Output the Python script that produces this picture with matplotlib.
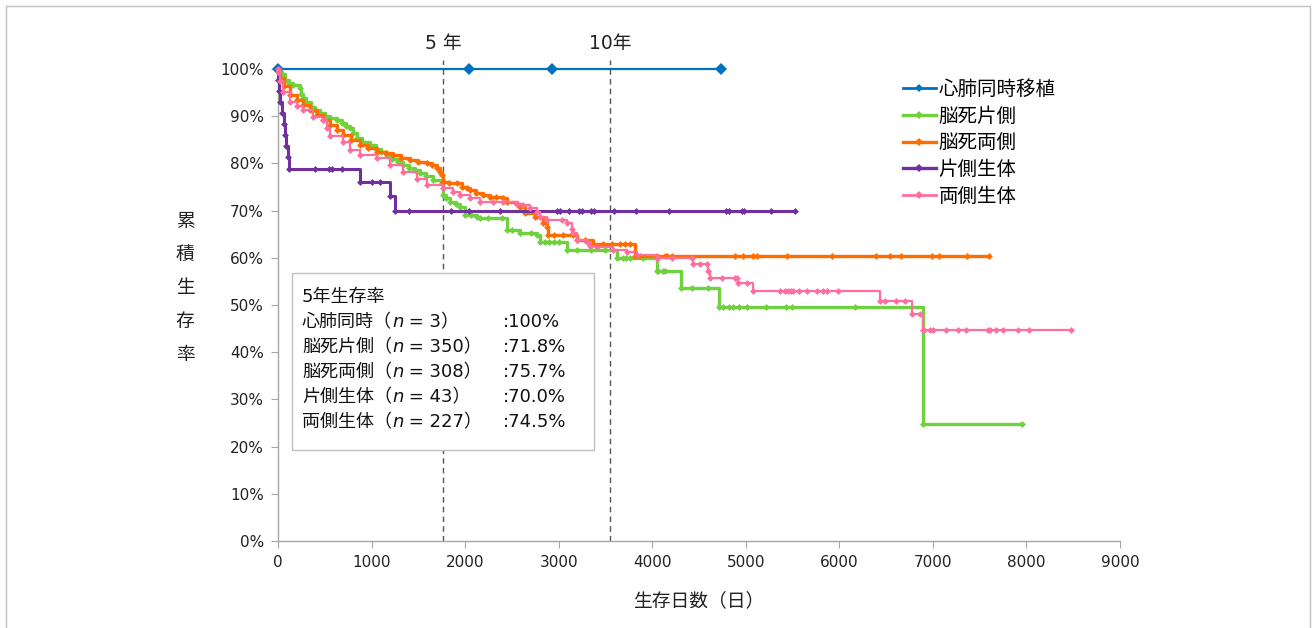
import matplotlib
matplotlib.use("Agg")
import matplotlib.pyplot as plt
from matplotlib.lines import Line2D
from matplotlib.patches import Rectangle
from matplotlib.ticker import FuncFormatter

plt.rcParams['font.family'] = ['DejaVu Sans', 'Noto Sans CJK JP']

# 生存日数 (days) and 累積生存率 (%), one step point each
labels = ["心肺同時移植", "脳死片側", "脳死両側", "片側生体", "両側生体"]
colors = ["#0070C0", "#6FD13D", "#FF6D00", "#7030A0", "#FF6F9E"]

hl_days = [0, 2040, 2930, 4730]
hl_surv = [100, 100, 100, 100]

bds_days = [0, 20, 40, 78, 120, 160, 235, 250, 270, 300, 350, 400, 449, 500, 560, 627, 680, 730,
            770, 800, 841, 900, 983, 1050, 1100, 1162, 1220, 1280, 1339, 1400, 1460, 1518, 1580,
            1660, 1750, 1767, 1800, 1838, 1900, 1945, 1999, 2060, 2124, 2159, 2250, 2391, 2444,
            2500, 2587, 2700, 2765, 2800, 2850, 2900, 2950, 3000, 3089, 3200, 3350, 3500, 3623,
            3690, 3725, 3760, 3900, 4047, 4062, 4115, 4136, 4304, 4422, 4600, 4717, 4760, 4824,
            4867, 4931, 5016, 5219, 5433, 5497, 6167, 6897, 7948]
bds_surv = [100, 99.4, 98.9, 97.7, 97.1, 96.6, 95.9, 94.8, 93.8, 93.0, 92.0, 91.3, 90.6, 90.0,
            89.6, 89.2, 88.5, 88.0, 87.4, 86.5, 85.3, 84.6, 83.9, 83.0, 82.4, 81.8, 81.0, 80.4,
            79.7, 79.0, 78.5, 77.9, 77.3, 76.5, 75.8, 73.3, 72.6, 71.9, 71.3, 70.8, 69.1, 69.0,
            68.7, 68.4, 68.4, 68.4, 65.9, 65.9, 65.2, 65.2, 64.8, 63.3, 63.3, 63.3, 63.3, 63.3,
            61.7, 61.7, 61.7, 61.7, 59.9, 59.9, 59.9, 59.9, 59.9, 57.3, 57.3, 57.3, 57.3, 53.6,
            53.6, 53.6, 49.6, 49.6, 49.6, 49.6, 49.6, 49.6, 49.6, 49.6, 49.6, 49.6, 24.7, 24.7]

bdb_days = [0, 21, 60, 128, 200, 270, 340, 414, 480, 556, 630, 698, 780, 876, 960, 1055, 1150,
            1232, 1320, 1411, 1500, 1589, 1650, 1696, 1730, 1750, 1767, 1826, 1910, 1970, 2017,
            2052, 2120, 2194, 2266, 2330, 2408, 2444, 2551, 2587, 2640, 2747, 2836, 2872, 2889,
            2950, 3050, 3156, 3192, 3280, 3370, 3474, 3567, 3655, 3709, 3762, 3816, 3869, 4048,
            4136, 4154, 4208, 4885, 4974, 5080, 5116, 5437, 5925, 6392, 6541, 6659, 6987, 7065,
            7361, 7600]
bdb_surv = [100, 98.0, 96.5, 94.5, 93.4, 92.4, 91.3, 90.3, 89.2, 88.1, 87.0, 86.0, 84.9, 83.9,
            83.2, 82.5, 82.1, 81.8, 81.2, 80.7, 80.4, 80.0, 79.6, 79.0, 78.2, 77.5, 76.1, 75.8,
            75.8, 75.1, 74.7, 74.4, 73.8, 73.3, 72.9, 72.9, 72.6, 71.9, 71.5, 70.8, 69.4, 68.7,
            67.3, 66.6, 64.8, 64.8, 64.8, 64.8, 63.8, 63.8, 62.9, 62.9, 62.9, 62.9, 62.9, 62.9,
            60.3, 60.3, 60.3, 60.3, 60.3, 60.3, 60.3, 60.3, 60.3, 60.3, 60.3, 60.3, 60.3, 60.3,
            60.3, 60.3, 60.3, 60.3, 60.3]

lds_days = [0, 5, 15, 25, 40, 60, 70, 85, 110, 120, 392, 542, 577, 684, 876, 1005, 1090, 1197,
            1250, 1397, 1849, 2045, 2373, 2979, 3014, 3114, 3221, 3246, 3342, 3381, 3591, 3826,
            4179, 4788, 4820, 4956, 4981, 5266, 5526]
lds_surv = [100, 97.7, 95.3, 93.0, 90.7, 88.4, 86.0, 83.7, 81.4, 78.9, 78.9, 78.9, 78.9, 78.9,
            76.0, 76.0, 76.0, 73.0, 70.0, 70.0, 70.0, 70.0, 70.0, 70.0, 70.0, 70.0, 70.0, 70.0,
            70.0, 70.0, 70.0, 70.0, 70.0, 70.0, 70.0, 70.0, 70.0, 70.0, 70.0]

ldb_days = [0, 3, 21, 57, 128, 200, 270, 377, 484, 520, 556, 698, 770, 876, 1055, 1197, 1339,
            1482, 1589, 1767, 1870, 1945, 2052, 2159, 2300, 2408, 2551, 2622, 2693, 2765, 2800,
            2872, 3032, 3086, 3140, 3157, 3192, 3299, 3335, 3406, 3584, 3727, 3834, 4048, 4065,
            4208, 4422, 4432, 4510, 4582, 4599, 4617, 4742, 4885, 4902, 4920, 5009, 5080, 5365,
            5419, 5454, 5480, 5508, 5572, 5651, 5758, 5829, 5872, 5989, 6434, 6488, 6602, 6701,
            6773, 6860, 6897, 6908, 6969, 7004, 7140, 7265, 7350, 7585, 7610, 7671, 7746, 7906,
            8027, 8473]
ldb_surv = [100, 99.4, 97.5, 95.2, 93.1, 92.2, 91.3, 89.9, 89.2, 87.4, 85.7, 84.6, 82.8, 81.8,
            81.1, 79.7, 78.2, 76.8, 75.4, 74.7, 74.0, 73.3, 72.6, 71.9, 71.9, 71.9, 71.5, 71.2,
            70.5, 69.8, 68.7, 68.0, 68.0, 67.3, 66.2, 65.2, 63.8, 63.4, 62.4, 62.2, 61.7, 61.3,
            60.6, 59.9, 59.9, 59.9, 59.9, 58.6, 58.6, 58.6, 57.1, 55.8, 55.8, 55.8, 55.8, 54.6,
            54.6, 53.0, 53.0, 53.0, 53.0, 53.0, 53.0, 53.0, 53.0, 53.0, 53.0, 53.0, 53.0, 50.8,
            50.8, 50.8, 50.8, 48.0, 48.0, 44.8, 44.8, 44.8, 44.8, 44.8, 44.8, 44.8, 44.8, 44.8,
            44.8, 44.8, 44.8, 44.8, 44.8]

five_year_rates = ["100%", "71.8%", "75.7%", "70.0%", "74.5%"]
group_names = ["心肺同時", "脳死片側", "脳死両側", "片側生体", "両側生体"]
group_n = [3, 350, 308, 43, 227]

year_marks = [1767, 3548]
year_labels = ["5 年", "10年"]

series = [(hl_days, hl_surv), (bds_days, bds_surv), (bdb_days, bdb_surv),
          (lds_days, lds_surv), (ldb_days, ldb_surv)]
widths = [1.6, 2.4, 2.4, 2.2, 1.6]
msizes = [6.5, 3.5, 3.5, 3.5, 3.5]

fig = plt.figure(figsize=(13.16, 6.28), dpi=100)
ax = fig.add_axes([278 / 1316, 87 / 628, 842 / 1316, 472 / 628])

for (d, s), lab, c, lw, ms in zip(series, labels, colors, widths, msizes):
    ax.plot(d, [v / 100 for v in s], drawstyle="steps-post", color=c, lw=lw,
            marker="D", markersize=ms, markeredgewidth=0, label=lab, zorder=3, clip_on=False)

ax.set_xlim(0, 9000)
ax.set_ylim(0, 1.0)
ax.set_xticks(range(0, 9001, 1000))
ax.set_yticks([i / 10 for i in range(11)])
ax.yaxis.set_major_formatter(FuncFormatter(lambda v, p: f"{v * 100:.0f}%"))
for sp in ["top", "right"]:
    ax.spines[sp].set_visible(False)
for sp in ["left", "bottom"]:
    ax.spines[sp].set_color("#A6A6A6")
    ax.spines[sp].set_linewidth(1.0)
ax.tick_params(axis="both", colors="#A6A6A6", labelcolor="#222222", labelsize=11, length=5)
ax.tick_params(axis="x", pad=5)
ax.tick_params(axis="y", pad=5)

# 5年 / 10年 dashed markers
for xm, yl in zip(year_marks, year_labels):
    ax.plot([xm, xm], [0, 1.02], ls=(0, (4, 3)), color="#555555", lw=1.0,
            clip_on=False, zorder=2)
    ax.text(xm, 1.055, yl, ha="center", va="center", fontsize=13.5, color="#222222")

ax.set_xlabel("生存日数（日）", fontsize=13.5, labelpad=15, color="#222222")
fig.text(185 / 1316, 1 - 288 / 628, "\n".join("累積生存率"), ha="center", va="center",
         fontsize=13.5, linespacing=1.95, color="#222222")

handles = [Line2D([], [], color=c, lw=lw, marker="D", markersize=4, markeredgewidth=0)
           for c, lw in zip(colors, [2, 2.4, 2.4, 2.4, 2])]
leg = ax.legend(handles, labels, loc="upper left", bbox_to_anchor=(0.742, 0.977),
                frameon=False, fontsize=14, handlelength=1.7, handletextpad=0.15,
                labelspacing=0.40, borderaxespad=0, borderpad=0, numpoints=1)

# 5年生存率 summary box
box = Rectangle((292 / 1316, 1 - 450 / 628), 302 / 1316, 177 / 628, transform=fig.transFigure,
                facecolor="white", edgecolor="#BFBFBF", lw=1.0, zorder=5)
fig.patches.append(box)
fig.text(302 / 1316, 1 - 297 / 628, "5年生存率", fontsize=13, va="center", zorder=6,
         color="#111111")

renderer = fig.canvas.get_renderer()


def text_runs(x_px, y, runs):
    # lay out text pieces one after another, left to right
    for s, style in runs:
        t = fig.text(x_px / 1316, y, s, fontsize=13, va="center", zorder=6, color="#111111",
                     style=style)
        x_px += t.get_window_extent(renderer).width


for i, (g, n, r) in enumerate(zip(group_names, group_n, five_year_rates)):
    y = 1 - (322 + 25 * i) / 628
    text_runs(302, y, [(f"{g}（", "normal"), ("n", "italic"), (f" = {n}）", "normal")])
    fig.text(503 / 1316, y, f":{r}", fontsize=13, va="center", zorder=6, color="#111111")

# outer frame
fig.patches.append(Rectangle((6 / 1316, -0.01), 1304 / 1316, 1 - 6 / 628 + 0.01,
                             transform=fig.transFigure, fill=False, edgecolor="#BFBFBF", lw=1.0))

fig.savefig("out.png", dpi=100)
